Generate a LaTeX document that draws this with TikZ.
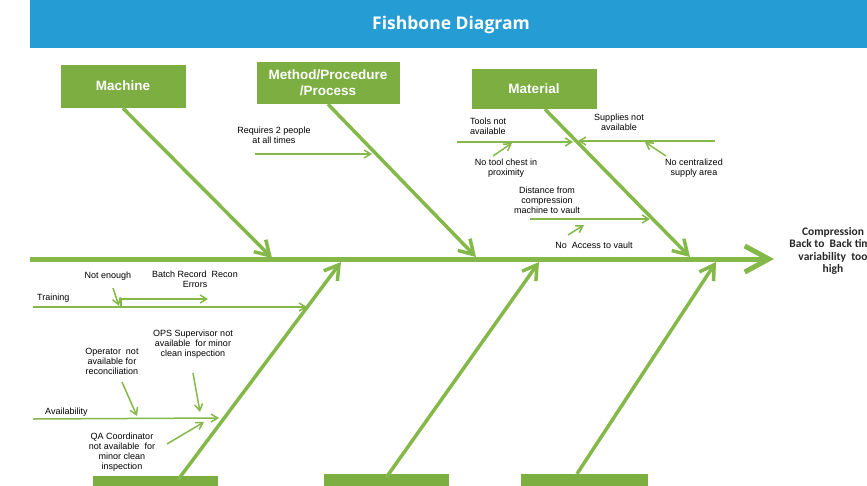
\documentclass[tikz,border=0pt]{standalone}
\usepackage{fontspec}
\setmainfont{Liberation Sans}
\newfontfamily\calibri{Carlito}
\newfontfamily\titlefont{Open Sans}
\usetikzlibrary{arrows.meta,positioning}

\definecolor{bonegreen}{RGB}{132,184,72}
\definecolor{boxgreen}{RGB}{124,174,66}
\definecolor{barblue}{RGB}{38,156,212}

\begin{document}
\begin{tikzpicture}[
  x=1pt, y=-1pt,
  cat/.style={rectangle, fill=boxgreen, draw=white, text=white, align=center, inner sep=0pt,
              font=\bfseries\fontsize{13.5}{15.5}\selectfont},
  bone/.style={draw=bonegreen, line width=3.5pt, -{Straight Barb[length=14pt, width=17pt]}},
  twig/.style={draw=bonegreen, line width=1.5pt, -{Straight Barb[length=6.5pt, width=8pt]}},
  lab/.style={font=\fontsize{9}{10}\selectfont, align=center, inner sep=0pt}
]
\useasboundingbox (0,0) rectangle (867,485);
\clip (0,0) rectangle (867,485);

% title bar
\fill[barblue] (30,0) rectangle (867,48);
\node[text=white, font=\titlefont\bfseries\fontsize{17.5}{20}\selectfont] (title) at (451,25) {Fishbone Diagram};

% categories
\node[cat, minimum width=126pt, minimum height=44pt] (machine) at (123,86) {Machine};
\node[cat, minimum width=144pt, minimum height=43pt] (method) at (328,82.5) {Method/Procedure\\/Process};
\node[cat, minimum width=126pt, minimum height=41pt] (material) at (534,88.5) {Material};
\node[cat, minimum width=126pt, minimum height=44pt] (cat4) at (155,497) {};
\node[cat, minimum width=126pt, minimum height=44pt] (cat5) at (386,495) {};
\node[cat, minimum width=128pt, minimum height=44pt] (cat6) at (584,495) {};

% spine and effect
\coordinate (tail) at (30,259);
\coordinate (head) at (774,259);
\draw[draw=bonegreen, line width=5pt, -{Straight Barb[length=24pt, width=26pt]}] (tail) -- (head);
\node[font=\calibri\bfseries\fontsize{11.5}{12.6}\selectfont, align=center, text=black!85] (effect) at (833,251)
  {Compression\\Back to~~Back time\\variability~~too\\high};

% main bones
\coordinate (tipA) at (272,258);
\coordinate (tipB) at (476,257);
\coordinate (tipC) at (690,257);
\coordinate (tipD) at (341,262);
\coordinate (tipE) at (539,262);
\coordinate (tipF) at (716,262);
\draw[bone] (machine.south) -- (tipA);
\draw[bone] (method.south) -- (tipB);
\draw[bone] ([xshift=11pt]material.south) -- (tipC);
\draw[bone] ([xshift=23pt, yshift=-5pt]cat4.north) -- (tipD);
\draw[bone] ([yshift=-5pt]cat5.north) -- (tipE);
\draw[bone] ([xshift=-7pt, yshift=-1pt]cat6.north) -- (tipF);

% method
\node[lab] (req) at (274,135) {Requires 2 people\\at all times};
\coordinate (req-s) at (255,154);
\coordinate (req-e) at (372,154);
\draw[twig] (req-s) -- (req-e);

% material
\node[lab, align=left, anchor=west] (tools) at (470,126) {Tools not\\available};
\coordinate (tools-s) at (457,142);
\coordinate (tools-e) at (573,142);
\draw[twig] (tools-s) -- (tools-e);
\node[lab] (supplies) at (619,122) {Supplies not\\available};
\coordinate (supplies-s) at (715,141);
\coordinate (supplies-e) at (578,141);
\draw[twig] (supplies-s) -- (supplies-e);
\node[lab] (chest) at (506,168) {No tool chest in\\proximity};
\coordinate (chest-s) at (493,156);
\coordinate (chest-e) at (512,143);
\draw[twig] (chest-s) -- (chest-e);
\node[lab] (central) at (694,168) {No centralized\\supply area};
\coordinate (central-s) at (666,156);
\coordinate (central-e) at (645,142);
\draw[twig] (central-s) -- (central-e);
\node[lab] (distance) at (547,200) {Distance from\\compression\\machine to vault};
\coordinate (distance-s) at (530,219);
\coordinate (distance-e) at (650,219);
\draw[twig] (distance-s) -- (distance-e);
\node[lab] (access) at (594,245) {No~~Access to vault};
\coordinate (access-s) at (568,235);
\coordinate (access-e) at (584,225);
\draw[twig] (access-s) -- (access-e);

% people
\node[lab, anchor=west] (training) at (37,298) {Training};
\coordinate (training-s) at (33,307);
\coordinate (training-e) at (307,307);
\draw[twig] (training-s) -- (training-e);
\node[lab] (notenough) at (108,276) {Not enough};
\coordinate (notenough-s) at (113,288);
\coordinate (notenough-e) at (119,306);
\draw[twig] (notenough-s) -- (notenough-e);
\node[lab] (batch) at (195,279) {Batch Record~~Recon\\Errors};
\coordinate (batch-s) at (121,307);
\coordinate (batch-e) at (208,299);
\draw[twig] (batch-s) |- (batch-e);

\node[lab] (ops) at (193,344) {OPS Supervisor not\\available~~for minor\\clean inspection};
\coordinate (ops-s) at (193,373);
\coordinate (ops-e) at (200,412);
\draw[twig] (ops-s) -- (ops-e);
\node[lab] (operator) at (112,361) {Operator~~not\\available for\\reconciliation};
\coordinate (operator-s) at (122,382);
\coordinate (operator-e) at (137,416);
\draw[twig] (operator-s) -- (operator-e);
\node[lab, anchor=west] (avail) at (45,412) {Availability};
\coordinate (avail-s) at (33,419);
\coordinate (avail-e) at (219,418);
\draw[twig] (avail-s) -- (avail-e);
\node[lab] (qa) at (122,452) {QA Coordinator\\not available~~for\\minor clean\\inspection};
\coordinate (qa-s) at (167,444);
\coordinate (qa-e) at (204,422);
\draw[twig] (qa-s) -- (qa-e);
\end{tikzpicture}
\end{document}
